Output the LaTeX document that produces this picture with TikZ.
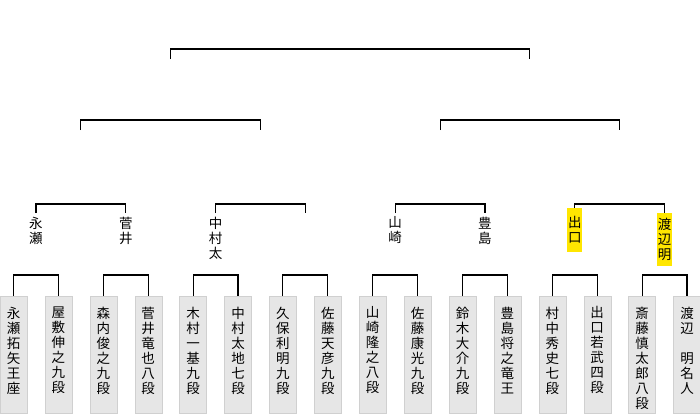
\documentclass[tikz,border=0pt]{standalone}
\usepackage{fontspec}
\setmainfont{Noto Sans CJK JP}
\usepackage{tikz}
\usetikzlibrary{positioning,calc}
\definecolor{CellGray}{HTML}{E6E6E6}
\definecolor{CellEdge}{HTML}{D0D0D0}
\definecolor{WinYellow}{HTML}{FFE600}

\begin{document}
\begin{tikzpicture}[
  x=1pt,y=-1pt,
  cell/.style={draw=CellEdge,fill=CellGray,minimum width=27pt,minimum height=117pt,inner sep=0pt,anchor=north},
  kanji/.style={font=\fontsize{13.5}{15}\selectfont,align=center,inner sep=0pt},
  qname/.style={kanji,anchor=north,inner xsep=0.5pt,inner ysep=3.5pt},
  hilite/.style={kanji,anchor=north,fill=WinYellow,minimum width=15pt,inner xsep=0.5pt},
  bracket/.style={draw=black,line width=1.1pt}
]
\useasboundingbox (0,0) rectangle (700,415);
\coordinate (rowP) at (0,275);
\coordinate (rowQ) at (0,204);
\coordinate (rowS) at (0,120);
\coordinate (rowSend) at (0,130);
\coordinate (rowF) at (0,49);
\coordinate (rowFend) at (0,59);
\foreach \nm [count=\i] in {
  {永\\瀬\\拓\\矢\\王\\座},{屋\\敷\\伸\\之\\九\\段},{森\\内\\俊\\之\\九\\段},{菅\\井\\竜\\也\\八\\段},
  {木\\村\\一\\基\\九\\段},{中\\村\\太\\地\\七\\段},{久\\保\\利\\明\\九\\段},{佐\\藤\\天\\彦\\九\\段},
  {山\\崎\\隆\\之\\八\\段},{佐\\藤\\康\\光\\九\\段},{鈴\\木\\大\\介\\九\\段},{豊\\島\\将\\之\\竜\\王},
  {村\\中\\秀\\史\\七\\段},{出\\口\\若\\武\\四\\段},{斎\\藤\\慎\\太\\郎\\八\\段},{渡\\辺\\~\\明\\名\\人}}{
  \node[cell] (p\i) at ({13.5+44.9*(\i-1)},296) {};
  \node[kanji,anchor=north,below=10.5pt of p\i.north] (n\i) {\nm};
}
\node[qname] (q1) at (35.95,213) {永\\瀬};
\node[qname] (q2) at (125.75,213) {菅\\井};
\node[qname] (q3) at (215.55,213) {中\\村\\太};
\node[qname] (q4) at (305.35,213) {};
\node[qname] (q5) at (395.15,213) {山\\崎};
\node[qname] (q6) at (484.95,213) {豊\\島};
\node[hilite,minimum height=44pt] (q7) at (574.75,208) {出\\口};
\node[hilite,minimum height=53pt] (q8) at (664.55,213) {渡\\辺\\明};
\foreach \a/\b in {1/2,3/4,5/6,7/8,9/10,11/12,13/14,15/16}
  \draw[bracket] (p\a.north) -- (p\a.north |- rowP) -| (p\b.north);
\foreach \a/\b in {1/2,3/4,5/6,7/8}
  \draw[bracket] (q\a.north) -- (q\a.north |- rowQ) -| (q\b.north);
\coordinate (s1) at ($(q1.north)!0.5!(q2.north)$);
\coordinate (s2) at ($(q3.north)!0.5!(q4.north)$);
\coordinate (s3) at ($(q5.north)!0.5!(q6.north)$);
\coordinate (s4) at ($(q7.north)!0.5!(q8.north)$);
\draw[bracket] (s1 |- rowSend) -- (s1 |- rowS) -| (s2 |- rowSend);
\draw[bracket] (s3 |- rowSend) -- (s3 |- rowS) -| (s4 |- rowSend);
\coordinate (f1) at ($(s1)!0.5!(s2)$);
\coordinate (f2) at ($(s3)!0.5!(s4)$);
\draw[bracket] (f1 |- rowFend) -- (f1 |- rowF) -| (f2 |- rowFend);
\end{tikzpicture}
\end{document}
